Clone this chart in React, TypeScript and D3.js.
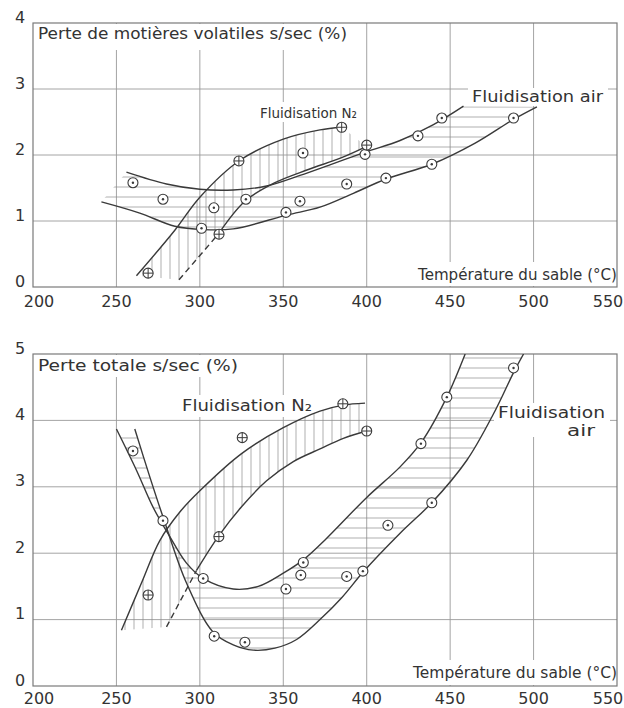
import React from "react";
import * as d3 from "d3";

// ---------- shared axis data ----------
const xTicks = [200, 250, 300, 350, 400, 450, 500, 550];
const volYTicks = [0, 1, 2, 3, 4];
const totYTicks = [0, 1, 2, 3, 4, 5];

// ---------- top panel: Perte de matières volatiles ----------
const volAirPts: [number, number][] = [
  [259.9, 1.58], [277.9, 1.33], [301, 0.89], [308.4, 1.2], [327.6, 1.33],
  [351.6, 1.13], [360, 1.3], [361.8, 2.03], [399, 2.01], [388, 1.56],
  [411.5, 1.65], [439, 1.86], [430.7, 2.29], [445, 2.56], [488, 2.56],
];
const volN2Pts: [number, number][] = [
  [269, 0.21], [311.5, 0.8], [323.4, 1.91], [385, 2.42], [400, 2.15],
];
const volAirUpper: [number, number][] = [
  [256, 1.74], [280, 1.56], [300, 1.48], [320, 1.47], [340, 1.53],
  [360, 1.69], [380, 1.87], [400, 2.05], [420, 2.22], [440, 2.46], [458, 2.74],
];
const volAirLower: [number, number][] = [
  [241, 1.29], [264, 1.12], [285, 0.92], [302, 0.87], [320, 0.88],
  [352, 1.09], [372, 1.21], [392, 1.42], [412, 1.64], [439, 1.86],
  [465, 2.18], [488, 2.54], [502, 2.73],
];
const volN2Upper: [number, number][] = [
  [262, 0.17], [285, 0.86], [300, 1.36], [324, 1.92], [350, 2.24],
  [372, 2.38], [385, 2.42],
];
const volN2Dashed: [number, number][] = [[287.5, 0.11], [311, 0.8]];
const volN2Lower: [number, number][] = [
  [311, 0.8], [327, 1.3], [345, 1.58], [365, 1.78], [385, 1.96], [400, 2.13],
];

// ---------- bottom panel: Perte totale ----------
const totAirPts: [number, number][] = [
  [259.9, 3.54], [277.9, 2.49], [302, 1.62], [308.6, 0.75], [327, 0.66],
  [351.6, 1.46], [362, 1.86], [360.5, 1.67], [388, 1.65], [397.7, 1.73],
  [412.7, 2.42], [439, 2.76], [432.5, 3.65], [448, 4.35], [488, 4.79],
];
const totN2Pts: [number, number][] = [
  [269, 1.37], [325.4, 3.74], [311.4, 2.25], [385.7, 4.25], [400, 3.84],
];
const totAirA: [number, number][] = [
  [250, 3.87], [262, 3.25], [272, 2.69], [282, 2.25], [292, 1.85],
  [302, 1.62], [320, 1.46], [335, 1.5], [350, 1.7], [362, 1.9],
  [375, 2.2], [400, 2.84], [420, 3.3], [433, 3.68], [448, 4.35], [459, 5.0],
];
const totAirB: [number, number][] = [
  [261, 3.87], [270, 3.15], [278, 2.54], [292, 1.55], [308, 0.81],
  [320, 0.62], [332, 0.54], [345, 0.57], [358, 0.7], [372, 1.0],
  [385, 1.33], [398, 1.72], [420, 2.3], [439, 2.76], [460, 3.4],
  [476, 4.1], [488, 4.72], [494, 5.0],
];
const totN2Upper: [number, number][] = [
  [253, 0.84], [265, 1.55], [276, 2.19], [288, 2.62], [300, 2.94],
  [325, 3.5], [350, 3.89], [372, 4.14], [386, 4.23], [399, 4.26],
];
const totN2Dashed: [number, number][] = [[280, 0.89], [298, 1.74]];
const totN2Lower: [number, number][] = [
  [298, 1.74], [311, 2.25], [325, 2.7], [340, 3.09], [356, 3.38],
  [372, 3.57], [386, 3.73], [400, 3.84],
];

const INK = "#3a3a3a";
const GRID = "#9a9a9a";
const HATCH = "#8c8c8c";
const FONT = "'DejaVu Sans', 'Noto Sans', sans-serif";

const x = d3.scaleLinear().domain([200, 550]).range([33, 617]);

type Pt = [number, number];

function Panel(props: {
  id: string;
  y: d3.ScaleLinear<number, number>;
  yTicks: number[];
  airUpper: Pt[];
  airLower: Pt[];
  n2Upper: Pt[];
  n2Lower: Pt[];
  n2Dashed: Pt[];
  airPts: Pt[];
  n2Pts: Pt[];
  masks: { x: number; y: number; w: number; h: number }[];
  xLabelY: number;
}) {
  const { id, y, yTicks } = props;
  const [y0, y1] = y.range();
  const top = Math.min(y0, y1);
  const bottom = Math.max(y0, y1);
  const left = x(200);
  const right = x(550);
  const line = d3
    .line<Pt>()
    .x((d) => x(d[0]))
    .y((d) => y(d[1]))
    .curve(d3.curveCatmullRom.alpha(0.5));
  const straight = d3
    .line<Pt>()
    .x((d) => x(d[0]))
    .y((d) => y(d[1]));

  const join = (a: string, b: string) => a + "L" + b.slice(1);
  const airClip =
    join(line(props.airUpper) as string, line([...props.airLower].reverse()) as string) + "Z";
  const n2Clip =
    join(
      join(line(props.n2Upper) as string, line([...props.n2Lower].reverse()) as string),
      straight([...props.n2Dashed].reverse()) as string
    ) + "Z";

  const hLines = d3.range(top + 4, bottom, 10);
  const vLines = d3.range(left + 2, right, 9);

  return (
    <g>
      <defs>
        <clipPath id={`${id}-air`}>
          <path d={airClip} />
        </clipPath>
        <clipPath id={`${id}-n2`}>
          <path d={n2Clip} />
        </clipPath>
        <clipPath id={`${id}-frame`}>
          <rect x={left} y={top} width={right - left} height={bottom - top} />
        </clipPath>
      </defs>
      {/* grid */}
      {xTicks.slice(1, -1).map((t) => (
        <line key={"gx" + t} x1={x(t)} x2={x(t)} y1={top} y2={bottom} stroke={GRID} strokeWidth={0.9} />
      ))}
      {yTicks.slice(1, -1).map((t) => (
        <line key={"gy" + t} x1={left} x2={right} y1={y(t)} y2={y(t)} stroke={GRID} strokeWidth={0.9} />
      ))}
      {props.masks.map((m, i) => (
        <rect key={"m" + i} x={m.x} y={m.y} width={m.w} height={m.h} fill="#fff" />
      ))}
      <rect x={left} y={top} width={right - left} height={bottom - top} fill="none" stroke="#7a7a7a" strokeWidth={1.2} />
      {/* hatching */}
      <g clipPath={`url(#${id}-frame)`}>
        <g clipPath={`url(#${id}-air)`}>
          {hLines.map((h) => (
            <line key={"h" + h} x1={left} x2={right} y1={h} y2={h} stroke={HATCH} strokeWidth={0.7} />
          ))}
        </g>
        <g clipPath={`url(#${id}-n2)`}>
          {vLines.map((v) => (
            <line key={"v" + v} x1={v} x2={v} y1={top} y2={bottom} stroke={HATCH} strokeWidth={0.7} />
          ))}
        </g>
        {/* curves */}
        <path d={line(props.airUpper) as string} fill="none" stroke={INK} strokeWidth={1.4} />
        <path d={line(props.airLower) as string} fill="none" stroke={INK} strokeWidth={1.4} />
        <path d={line(props.n2Upper) as string} fill="none" stroke={INK} strokeWidth={1.4} />
        <path d={line(props.n2Lower) as string} fill="none" stroke={INK} strokeWidth={1.4} />
        <path d={straight(props.n2Dashed) as string} fill="none" stroke={INK} strokeWidth={1.4} strokeDasharray="6,4" />
      </g>
      {/* points */}
      {props.airPts.map((p, i) => (
        <g key={"a" + i} transform={`translate(${x(p[0])},${y(p[1])})`}>
          <circle r={5} fill="#fff" stroke={INK} strokeWidth={1.1} />
          <circle r={1.2} fill={INK} />
        </g>
      ))}
      {props.n2Pts.map((p, i) => (
        <g key={"n" + i} transform={`translate(${x(p[0])},${y(p[1])})`}>
          <circle r={5} fill="#fff" stroke={INK} strokeWidth={1.1} />
          <line x1={-5} x2={5} y1={0} y2={0} stroke={INK} strokeWidth={1} />
          <line x1={0} x2={0} y1={-5} y2={5} stroke={INK} strokeWidth={1} />
        </g>
      ))}
      {/* y tick labels */}
      {yTicks.map((t) => (
        <text key={"ty" + t} x={20} y={y(t) - 5} textAnchor="middle" dominantBaseline="middle" fontSize={16} fill="#333" fontFamily={FONT}>
          {t}
        </text>
      ))}
      {/* x tick labels */}
      {xTicks.map((t, i) => (
        <text
          key={"tx" + t}
          x={i === 0 ? x(t) + 6 : i === xTicks.length - 1 ? x(t) - 9 : x(t)}
          y={props.xLabelY}
          textAnchor="middle"
          dominantBaseline="middle"
          fontSize={16}
          fill="#333"
          fontFamily={FONT}
        >
          {t}
        </text>
      ))}
    </g>
  );
}

export default function App() {
  const yTop = d3.scaleLinear().domain([0, 4]).range([287, 23]);
  const yBot = d3.scaleLinear().domain([0, 5]).range([686, 354]);
  const T = { fontFamily: FONT, fill: "#333", fontSize: 15 } as const;
  return (
    <svg width={624} height={708} style={{ position: "absolute", left: 0, top: 0, background: "#fff" }}>
      <Panel
        id="vol"
        y={yTop}
        yTicks={volYTicks}
        airUpper={volAirUpper}
        airLower={volAirLower}
        n2Upper={volN2Upper}
        n2Lower={volN2Lower}
        n2Dashed={volN2Dashed}
        airPts={volAirPts}
        n2Pts={volN2Pts}
        xLabelY={302}
        masks={[
          { x: 34, y: 24, w: 325, h: 26 },
          { x: 256, y: 102, w: 104, h: 20 },
          { x: 468, y: 88, w: 140, h: 18 },
          { x: 414, y: 262, w: 202, h: 24 },
        ]}
      />
      <Panel
        id="tot"
        y={yBot}
        yTicks={totYTicks}
        airUpper={totAirA}
        airLower={totAirB}
        n2Upper={totN2Upper}
        n2Lower={totN2Lower}
        n2Dashed={totN2Dashed}
        airPts={totAirPts}
        n2Pts={totN2Pts}
        xLabelY={699}
        masks={[
          { x: 34, y: 355, w: 212, h: 22 },
          { x: 178, y: 395, w: 138, h: 22 },
          { x: 494, y: 403, w: 116, h: 34 },
          { x: 409, y: 660, w: 207, h: 25 },
        ]}
      />
      {/* top panel labels */}
      <text x={38} y={39} textLength={309} lengthAdjust="spacingAndGlyphs" {...T}>
        Perte de motières volatiles s/sec (%)
      </text>
      <text x={260} y={118} textLength={97} lengthAdjust="spacingAndGlyphs" {...T} fontSize={14}>
        Fluidisation N₂
      </text>
      <text x={472} y={102} textLength={131} lengthAdjust="spacingAndGlyphs" {...T}>
        Fluidisation air
      </text>
      <text x={418} y={280} textLength={199} lengthAdjust="spacingAndGlyphs" {...T}>
        Température du sable (°C)
      </text>
      {/* bottom panel labels */}
      <text x={38} y={371} textLength={200} lengthAdjust="spacingAndGlyphs" {...T}>
        Perte totale s/sec (%)
      </text>
      <text x={182} y={411} textLength={130} lengthAdjust="spacingAndGlyphs" {...T}>
        Fluidisation N₂
      </text>
      <text x={498} y={418} textLength={107} lengthAdjust="spacingAndGlyphs" {...T}>
        Fluidisation
      </text>
      <text x={567} y={436} textLength={28} lengthAdjust="spacingAndGlyphs" {...T}>
        air
      </text>
      <text x={413} y={678} textLength={204} lengthAdjust="spacingAndGlyphs" {...T}>
        Température du sable (°C)
      </text>
    </svg>
  );
}
